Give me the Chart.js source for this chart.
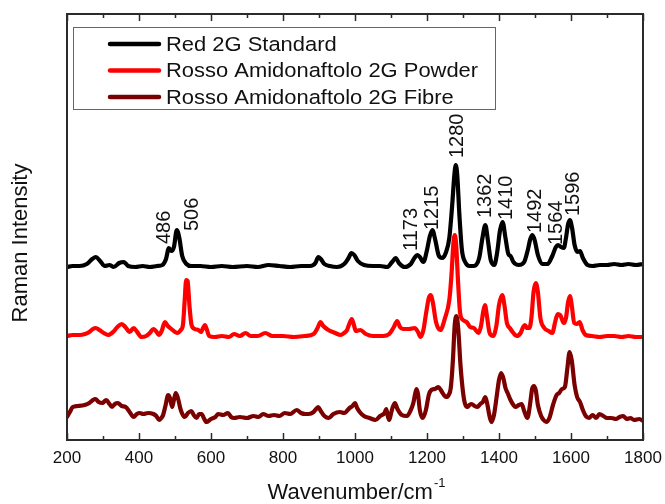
<!DOCTYPE html>
<html>
<head>
<meta charset="utf-8">
<script src="https://cdn.jsdelivr.net/npm/chart.js@4.4.0/dist/chart.umd.min.js"></script>
<style>
  html, body { margin: 0; padding: 0; background: #fff; }
  canvas { display: block; }
</style>
</head>
<body>
<canvas id="raman" width="665" height="504"></canvas>
<script>
// Raman spectra (intensity in arbitrary units, offset traces)
const seriesNames = ["Red 2G Standard", "Rosso Amidonaftolo 2G Powder", "Rosso Amidonaftolo 2G Fibre"];
const seriesColors = ["#000000", "#ff0000", "#7b0000"];

const standardX = [200, 215, 235, 255, 270, 280, 292, 305, 318, 330, 345, 358, 370, 390, 410, 430, 450, 465, 475, 483,
  490, 497, 505, 512, 520, 532, 545, 570, 600, 630, 660, 700, 730, 760, 790, 820, 850, 875, 890, 898,
  905, 915, 930, 950, 970, 982, 990, 998, 1008, 1025, 1050, 1070, 1089, 1103, 1113, 1122, 1138, 1155, 1165, 1173,
  1180, 1190, 1200, 1208, 1215, 1223, 1232, 1242, 1252, 1262, 1270, 1276, 1280, 1284, 1290, 1297, 1306, 1318, 1330, 1345,
  1354, 1362, 1369, 1377, 1387, 1395, 1403, 1410, 1418, 1426, 1432, 1440, 1455, 1470, 1480, 1487, 1493, 1499, 1508, 1520,
  1535, 1548, 1558, 1564, 1572, 1580, 1586, 1592, 1597, 1603, 1610, 1618, 1625, 1633, 1646, 1660, 1680, 1700, 1720, 1740,
  1760, 1780, 1800];
const standardY = [173, 174, 174, 176, 181, 183, 179, 174, 175, 173, 177, 178, 174, 173, 174, 173, 174, 175, 181, 192,
  189, 193, 210, 202, 184, 176, 174, 174, 173, 174, 173, 174, 173, 175, 174, 173, 174, 174, 177, 183,
  181, 176, 174, 173, 176, 182, 187, 185, 179, 175, 174, 174, 173, 178, 182, 177, 173, 176, 182, 185,
  183, 178, 190, 204, 210, 200, 185, 182, 187, 202, 235, 265, 275, 265, 225, 190, 178, 174, 174, 182,
  202, 215, 200, 180, 175, 188, 210, 218, 202, 186, 184, 178, 175, 178, 190, 201, 205, 200, 185, 176,
  176, 184, 193, 195, 193, 192, 202, 216, 220, 212, 195, 188, 189, 182, 175, 174, 175, 175, 176, 175,
  176, 175, 176];

const powderX = [200, 215, 235, 250, 262, 272, 280, 290, 302, 314, 328, 340, 352, 362, 374, 385, 395, 407, 420, 430,
  440, 447, 455, 463, 472, 480, 490, 500, 508, 516, 522, 527, 531, 535, 540, 546, 555, 565, 572, 578,
  583, 588, 595, 610, 630, 650, 664, 680, 696, 710, 730, 751, 770, 800, 830, 860, 885, 896, 904, 912,
  926, 945, 960, 970, 978, 984, 991, 997, 1002, 1015, 1030, 1050, 1078, 1095, 1108, 1117, 1125, 1133, 1150, 1166,
  1175, 1182, 1190, 1198, 1205, 1210, 1216, 1225, 1237, 1250, 1262, 1268, 1273, 1277, 1281, 1286, 1292, 1300, 1310, 1320,
  1330, 1343, 1350, 1356, 1361, 1366, 1374, 1384, 1393, 1400, 1409, 1415, 1422, 1430, 1440, 1449, 1460, 1467, 1472, 1478,
  1484, 1490, 1496, 1502, 1508, 1515, 1526, 1538, 1548, 1556, 1563, 1570, 1580, 1586, 1592, 1597, 1602, 1609, 1616, 1624,
  1632, 1641, 1658, 1680, 1700, 1720, 1740, 1760, 1780, 1800];
const powderY = [104, 105, 105, 106, 108, 111, 112, 110, 107, 105, 108, 113, 116, 113, 108, 112, 108, 103, 104, 107,
  111, 109, 105, 109, 118, 114, 111, 108, 107, 110, 115, 140, 160, 159, 135, 115, 111, 110, 108, 112,
  115, 111, 104, 103, 104, 103, 106, 104, 107, 104, 104, 107, 104, 104, 103, 104, 106, 112, 118, 114,
  110, 107, 105, 107, 110, 116, 121, 115, 109, 110, 106, 104, 104, 106, 113, 119, 113, 111, 111, 112,
  108, 103, 110, 128, 142, 145, 138, 118, 110, 122, 140, 165, 195, 205, 195, 160, 127, 120, 118, 113,
  112, 107, 114, 128, 135, 125, 107, 104, 115, 135, 145, 135, 117, 112, 107, 104, 107, 113, 115, 112,
  112, 122, 148, 157, 148, 122, 112, 109, 107, 118, 126, 125, 117, 122, 138, 144, 135, 117, 116, 118,
  110, 105, 104, 103, 104, 104, 103, 104, 103, 103];

const fibreX = [200, 208, 216, 230, 249, 262, 272, 279, 288, 298, 309, 318, 325, 333, 341, 352, 363, 374, 385, 394,
  402, 412, 425, 440, 448, 456, 462, 467, 474, 481, 486, 492, 497, 502, 508, 516, 527, 536, 545, 552,
  560, 567, 574, 580, 587, 600, 612, 620, 634, 647, 656, 664, 680, 700, 718, 732, 745, 760, 775, 790,
  805, 820, 838, 850, 862, 871, 885, 892, 898, 905, 915, 927, 940, 958, 970, 985, 993, 1000, 1006, 1013,
  1025, 1040, 1057, 1070, 1082, 1087, 1091, 1095, 1101, 1106, 1111, 1118, 1130, 1144, 1155, 1162, 1167, 1171, 1175, 1180,
  1188, 1197, 1205, 1212, 1222, 1232, 1240, 1247, 1253, 1260, 1266, 1272, 1277, 1282, 1287, 1293, 1300, 1305, 1312, 1318,
  1324, 1332, 1340, 1348, 1355, 1362, 1368, 1373, 1379, 1386, 1393, 1400, 1406, 1412, 1418, 1424, 1432, 1440, 1446, 1455,
  1463, 1470, 1479, 1486, 1492, 1497, 1502, 1508, 1517, 1524, 1531, 1540, 1550, 1560, 1567, 1575, 1583, 1590, 1596, 1602,
  1610, 1617, 1625, 1633, 1641, 1650, 1660, 1670, 1679, 1690, 1700, 1712, 1725, 1735, 1745, 1755, 1765, 1775, 1790, 1800];
const fibreY = [23, 28, 33, 34, 35, 37, 40, 41, 38, 37, 40, 36, 33, 36, 37, 34, 33, 28, 23, 26,
  27, 26, 27, 26, 24, 20, 22, 25, 35, 45, 42, 33, 40, 47, 42, 30, 23, 27, 29, 25,
  22, 26, 26, 22, 18, 21, 23, 26, 25, 27, 23, 22, 23, 22, 24, 23, 26, 24, 25, 24,
  27, 26, 30, 27, 26, 26, 28, 31, 33, 29, 24, 22, 26, 28, 27, 32, 34, 37, 32, 28,
  24, 22, 20, 24, 27, 31, 24, 20, 28, 34, 37, 31, 25, 24, 30, 37, 46, 51, 46, 30,
  22, 30, 45, 50, 51, 53, 49, 45, 43, 45, 52, 80, 115, 124, 110, 75, 48, 37, 33, 35,
  36, 34, 33, 36, 38, 43, 35, 25, 18, 25, 42, 60, 67, 62, 52, 47, 40, 35, 33, 35,
  36, 29, 22, 35, 51, 54, 50, 35, 24, 20, 18, 22, 35, 45, 47, 51, 53, 72, 88, 80,
  55, 43, 38, 30, 24, 22, 25, 22, 26, 24, 22, 22, 21, 23, 24, 21, 22, 20, 21, 19];

// peak labels on the standard trace, with where each label text starts
const peakLabels = ["486", "506", "1173", "1215", "1280", "1362", "1410", "1492", "1564", "1596"];
const peakLabelX = [472, 549, 1157, 1216, 1284, 1363, 1420, 1501, 1559, 1607];
const peakLabelY = [196, 209, 189, 210, 282, 222, 220, 207, 195, 224];

const xTicks = [200, 400, 600, 800, 1000, 1200, 1400, 1600, 1800];

const FONT = '"Liberation Sans", Arial, Helvetica, sans-serif';

function toPoints(xs, ys) {
  return xs.map((x, i) => ({ x: x, y: ys[i] }));
}

// frame + inward ticks on top and bottom
const frameTicks = {
  id: "frameTicks",
  afterDraw(chart) {
    const { ctx, chartArea: a, scales } = chart;
    const x = scales.x;
    ctx.save();
    ctx.strokeStyle = "#2b2b2b";
    ctx.lineWidth = 2;
    ctx.strokeRect(a.left, a.top, a.right - a.left, a.bottom - a.top);
    ctx.lineWidth = 1.5;
    for (let v = x.min; v <= x.max; v += 100) {
      const px = Math.round(x.getPixelForValue(v)) + 0.5;
      const len = (v % 200 === 0) ? 7 : 4;
      ctx.beginPath();
      ctx.moveTo(px, a.bottom);
      ctx.lineTo(px, a.bottom - len);
      ctx.moveTo(px, a.top);
      ctx.lineTo(px, a.top + len);
      ctx.stroke();
    }
    ctx.restore();
  }
};

const peakText = {
  id: "peakText",
  afterDatasetsDraw(chart) {
    const { ctx, scales } = chart;
    ctx.save();
    ctx.fillStyle = "#111";
    ctx.font = "20px " + FONT;
    ctx.textAlign = "left";
    ctx.textBaseline = "middle";
    peakLabels.forEach((t, i) => {
      const px = scales.x.getPixelForValue(peakLabelX[i]);
      const py = scales.y.getPixelForValue(peakLabelY[i]);
      ctx.save();
      ctx.translate(px, py);
      ctx.rotate(-Math.PI / 2);
      ctx.fillText(t, 0, 0);
      ctx.restore();
    });
    ctx.restore();
  }
};

const boxLegend = {
  id: "boxLegend",
  afterDraw(chart) {
    const { ctx } = chart;
    ctx.save();
    ctx.fillStyle = "#fff";
    ctx.fillRect(73, 27, 422, 82);
    ctx.strokeStyle = "#666";
    ctx.lineWidth = 1;
    ctx.strokeRect(73.5, 27.5, 422, 82);
    ctx.textBaseline = "middle";
    seriesNames.forEach((name, i) => {
      const y = 44 + i * 26.5;
      ctx.strokeStyle = seriesColors[i];
      ctx.lineWidth = 4.5;
      ctx.lineCap = "round";
      ctx.beginPath();
      ctx.moveTo(110, y);
      ctx.lineTo(159, y);
      ctx.stroke();
      // the original text is a bit wide, stretch it slightly
      ctx.save();
      ctx.translate(166, y + 1);
      ctx.scale(1.07, 1);
      ctx.fillStyle = "#111";
      ctx.font = "20.5px " + FONT;
      ctx.fillText(name, 0, 0);
      ctx.restore();
    });
    ctx.restore();
  }
};

const axisTitles = {
  id: "axisTitles",
  afterDraw(chart) {
    const { ctx } = chart;
    ctx.save();
    ctx.fillStyle = "#111";
    ctx.font = "22px " + FONT;
    ctx.textBaseline = "middle";
    // y title
    ctx.save();
    ctx.translate(21, 243);
    ctx.rotate(-Math.PI / 2);
    ctx.textAlign = "center";
    ctx.fillText("Raman Intensity", 0, 0);
    ctx.restore();
    // x title with superscript
    const main = "Wavenumber/cm";
    ctx.textAlign = "left";
    const w1 = ctx.measureText(main).width;
    ctx.font = "13px " + FONT;
    const w2 = ctx.measureText("-1").width;
    const start = 356 - (w1 + w2) / 2;
    ctx.font = "22px " + FONT;
    ctx.fillText(main, start, 493);
    ctx.font = "13px " + FONT;
    ctx.fillText("-1", start + w1 + 1, 483);
    ctx.restore();
  }
};

const datasets = [
  { data: toPoints(standardX, standardY), order: 3 },
  { data: toPoints(powderX, powderY), order: 2 },
  { data: toPoints(fibreX, fibreY), order: 1 }
].map((d, i) => Object.assign(d, {
  label: seriesNames[i],
  borderColor: seriesColors[i],
  backgroundColor: seriesColors[i],
  borderWidth: 4.2,
  pointRadius: 0,
  showLine: true,
  fill: false,
  cubicInterpolationMode: "monotone",
  borderJoinStyle: "round",
  borderCapStyle: "round"
}));

new Chart(document.getElementById("raman").getContext("2d"), {
  type: "scatter",
  data: { datasets: datasets },
  options: {
    responsive: false,
    animation: false,
    devicePixelRatio: 1,
    layout: { autoPadding: false, padding: { left: 67, right: 22, top: 14, bottom: 27.6 } },
    plugins: {
      legend: { display: false },
      tooltip: { enabled: false }
    },
    scales: {
      x: {
        type: "linear",
        min: 200,
        max: 1800,
        afterBuildTicks: (scale) => { scale.ticks = xTicks.map((v) => ({ value: v })); },
        // the end labels may hang over the frame, like in the original
        afterFit: (scale) => { scale.paddingLeft = 0; scale.paddingRight = 0; },
        grid: { display: false, drawTicks: false },
        border: { display: false },
        ticks: {
          color: "#111",
          font: { family: FONT, size: 17 },
          padding: 8,
          maxRotation: 0,
          callback: (v) => String(v)
        }
      },
      y: {
        display: false,
        min: 0,
        max: 426
      }
    }
  },
  plugins: [frameTicks, peakText, boxLegend, axisTitles]
});
</script>
</body>
</html>
